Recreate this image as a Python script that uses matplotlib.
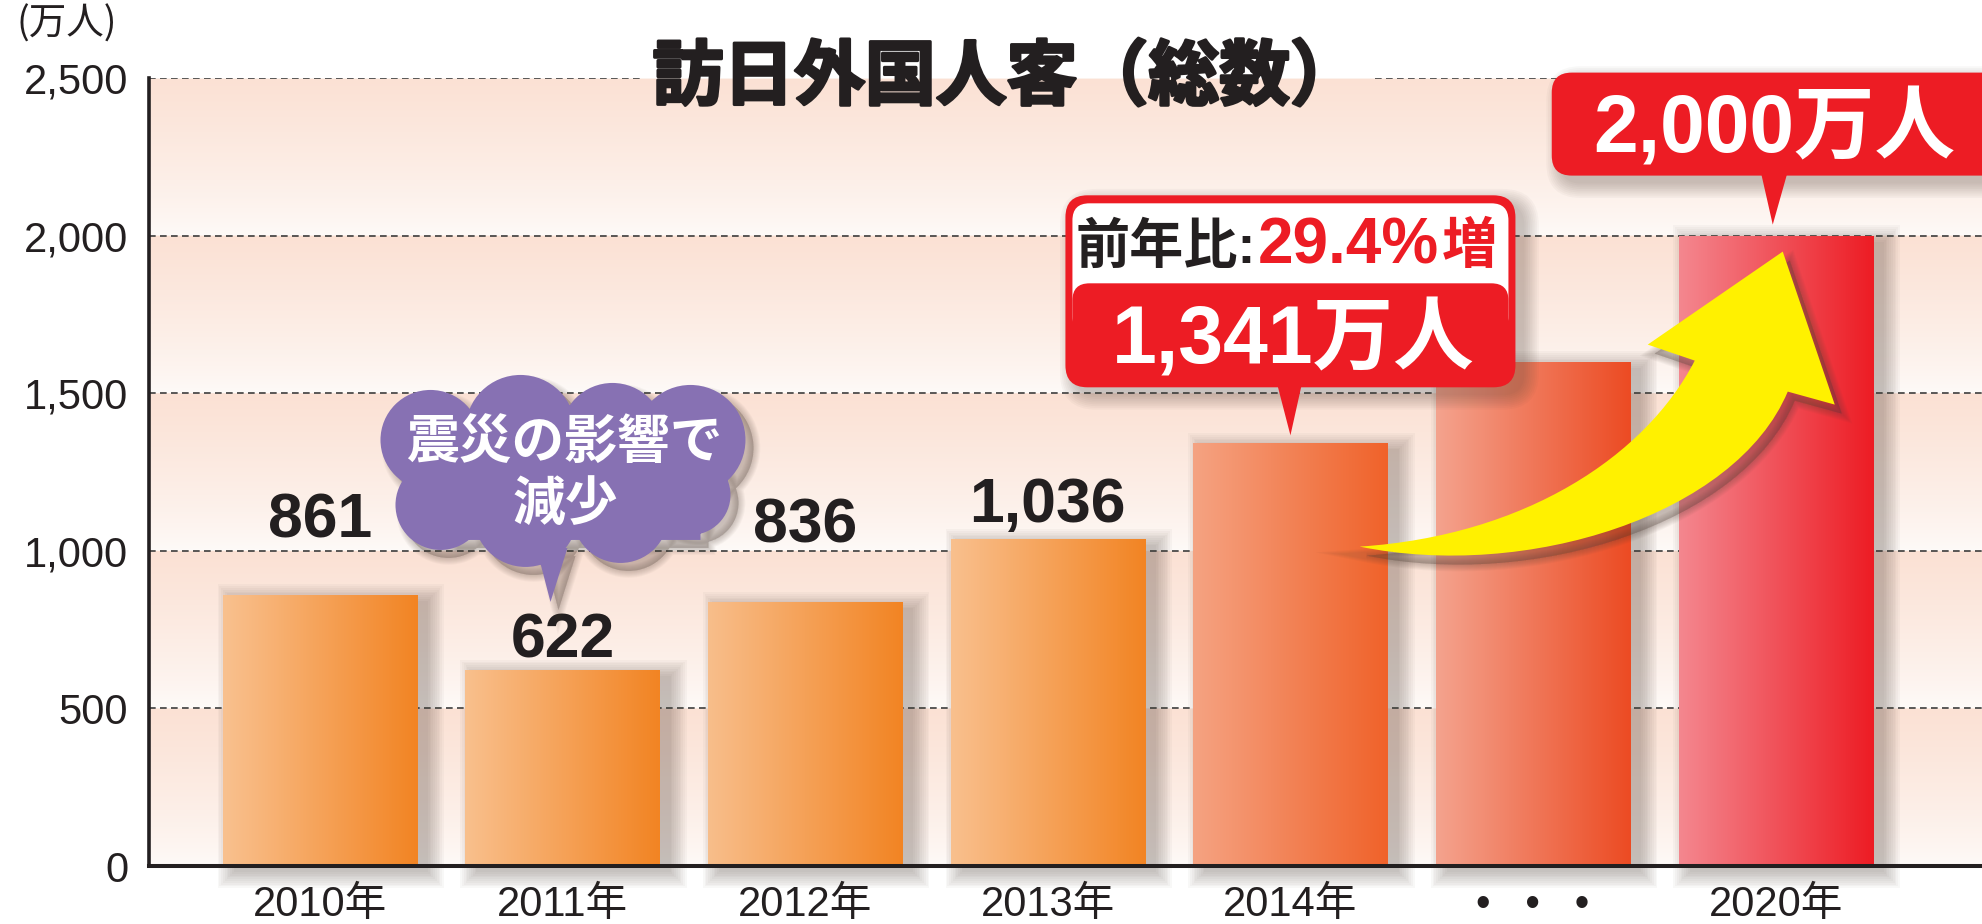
import numpy as np
import matplotlib
matplotlib.use('Agg')
import matplotlib.pyplot as plt
from matplotlib.patches import FancyBboxPatch, Polygon, PathPatch, Rectangle
from matplotlib.path import Path
from matplotlib.transforms import IdentityTransform, Affine2D
from matplotlib.colors import LinearSegmentedColormap, to_rgb
import matplotlib.patheffects as pe

# ---------------- data ----------------
categories = ['2010年', '2011年', '2012年', '2013年', '2014年', '•   •   •', '2020年']
values = [861, 622, 836, 1036, 1341, 1600, 2000]
value_labels = ['861', '622', '836', '1,036']
yticks = [0, 500, 1000, 1500, 2000, 2500]
ytick_labels = ['0', '500', '1,000', '1,500', '2,000', '2,500']
bar_left_colors = ['#f9c18f', '#f9c08d', '#f8be8b', '#f9c08e', '#f5a382', '#f4a38e', '#f4878f']
bar_right_colors = ['#f28423', '#f28423', '#f28423', '#f28423', '#f0622a', '#ec4b23', '#ed1c24']
title = '訪日外国人客（総数）'
unit_label = '(万人)'
cloud_lines = ['震災の影響で', '減少']
yoy_prefix = '前年比:'
yoy_value = '29.4%増'
callout_2014 = '1,341万人'
callout_2020 = '2,000万人'

# ---------------- style ----------------
W, H = 1982, 924
DPI = 100
RED = '#ed1c24'
PURPLE = '#8771b3'
YELLOW = '#fff100'
INK = '#231f20'
LATIN_CJK = ['Liberation Sans', 'Noto Sans CJK JP']
CJK = ['Noto Sans CJK JP', 'DejaVu Sans']
ID = IdentityTransform()

fig = plt.figure(figsize=(W / DPI, H / DPI), dpi=DPI)
fig.patch.set_facecolor('white')
renderer = fig.canvas.get_renderer()
left_px, bottom_px, top_px = 149, 866, 78
ax = fig.add_axes([left_px / W, (H - bottom_px) / H, 1 - left_px / W, (bottom_px - top_px) / H])
x = np.arange(len(categories))
XL = (-0.704, 6.85)
YL = (0, yticks[-1])
ax.set_xlim(*XL)
ax.set_ylim(*YL)
ax.set_facecolor('none')

# background bands (pink at top of each band fading to white)
band = yticks[1] - yticks[0]
yy = np.linspace(YL[0], YL[1], 1200)
frac = ((yy % band) / band) ** 0.75
ctop = np.array(to_rgb('#fbe1d4'))
cbot = np.array(to_rgb('#fefbf9'))
bg = cbot + (ctop - cbot) * frac[:, None]
ax.imshow(bg[:, None, :], extent=[XL[0], XL[1], YL[0], YL[1]], origin='lower',
          aspect='auto', zorder=0, interpolation='bilinear')

# gridlines
grid_kw = dict(color='#3d3d3d', lw=1.2, ls=(0, (4, 2.6)), zorder=1)
for v in yticks[1:-1]:
    ax.axhline(v, **grid_kw)

# ---------------- helpers ----------------
def rect_shadow(x0, y0, x1, y1, dx=11, dy=-6, n=10, step=1.8, alpha=0.037, z=2, color='#4f4038'):
    for i in range(n):
        e = i * step
        ax.add_patch(Rectangle((x0 + dx - e, y0 + dy - e), (x1 - x0) + 2 * e, (y1 - y0) + 2 * e,
                               transform=ID, facecolor=color, edgecolor='none', alpha=alpha,
                               zorder=z, clip_on=False))


def round_shadow(x0, y0, w, h, r, dx=9, dy=-8, n=9, step=1.8, alpha=0.035, z=5, color='#4f4038'):
    for i in range(n):
        e = i * step
        ax.add_patch(FancyBboxPatch((x0 + dx - e, y0 + dy - e), w + 2 * e, h + 2 * e,
                                    boxstyle=f'round,pad=0,rounding_size={r + e}', transform=ID,
                                    facecolor=color, edgecolor='none', alpha=alpha, zorder=z,
                                    clip_on=False))


def path_shadow(path, dx=8, dy=-8, n=8, step=1.4, alpha=0.04, z=5, color='#4f4038'):
    p = path.transformed(Affine2D().translate(dx, dy))
    for i in range(n):
        ax.add_patch(PathPatch(p, transform=ID, facecolor=color, edgecolor=color,
                               lw=i * step, alpha=alpha, zorder=z, clip_on=False))


def rbox(x0, y0, w, h, r, fc, z):
    ax.add_patch(FancyBboxPatch((x0, y0), w, h, boxstyle=f'round,pad=0,rounding_size={r}',
                                transform=ID, facecolor=fc, edgecolor='none', zorder=z,
                                clip_on=False))


# ---------------- bars ----------------
bars = ax.bar(x, values, width=0.8, color='none', edgecolor='none', zorder=3)
grad = np.linspace(0, 1, 256)[None, :]
for b, cl, cr in zip(bars, bar_left_colors, bar_right_colors):
    (bx0, by0) = ax.transData.transform((b.get_x(), 0))
    (bx1, by1) = ax.transData.transform((b.get_x() + b.get_width(), b.get_height()))
    rect_shadow(bx0, by0, bx1, by1)
    cmap = LinearSegmentedColormap.from_list('g', [cl, cr])
    im = ax.imshow(grad, cmap=cmap, extent=[b.get_x(), b.get_x() + b.get_width(), 0, b.get_height()],
                   aspect='auto', zorder=3, origin='lower', interpolation='bilinear')
    im.set_clip_path(b)

# value labels
label_offsets_px = [57, 12, 60, 17]
for i, lbl in enumerate(value_labels):
    ax.annotate(lbl, (x[i], values[i]), xytext=(0, label_offsets_px[i]), textcoords='offset pixels',
                ha='center', va='baseline', fontsize=45, fontweight='bold', family=LATIN_CJK,
                color=INK, zorder=4)

# ---------------- cloud callout (2011) ----------------
cx, cy = ax.transData.transform((x[1], values[1]))
circles = [(-132, 230, 50), (-42, 240, 55), (50, 235, 52), (128, 230, 55),
           (-122, 165, 45), (-37, 155, 52), (58, 155, 48), (128, 175, 40)]
parts = [Path.circle((cx + a, cy + b), r) for a, b, r in circles]
parts.append(Path.unit_rectangle().transformed(Affine2D().scale(250, 120).translate(cx - 112, cy + 130)))
parts.append(Path([(cx - 25, cy + 118), (cx - 12, cy + 68), (cx + 5, cy + 122), (cx - 25, cy + 118)],
                  [Path.MOVETO, Path.LINETO, Path.LINETO, Path.CLOSEPOLY]))
cloud = Path.make_compound_path(*parts)
path_shadow(cloud, dx=8, dy=-8, z=5)
ax.add_patch(PathPatch(cloud, transform=ID, facecolor=PURPLE, edgecolor='none', zorder=6, clip_on=False))
ax.text(cx + 1.5, cy + 227, cloud_lines[0], transform=ID, ha='center', va='center', fontsize=38,
        fontweight='bold', family=CJK, color='white', zorder=7)
ax.text(cx + 2.5, cy + 165, cloud_lines[1], transform=ID, ha='center', va='center', fontsize=38,
        fontweight='bold', family=CJK, color='white', zorder=7)

# ---------------- 2014 callout ----------------
ax4, ay4 = ax.transData.transform((x[4], values[4]))
round_shadow(ax4 - 225, ay4 + 56, 450, 192, 22, z=5)
ax.add_patch(Polygon([(ax4 - 14, ay4 + 62), (ax4 + 12, ay4 + 62), (ax4, ay4 + 8)], closed=True,
                     transform=ID, facecolor=RED, edgecolor='none', zorder=6, clip_on=False))
rbox(ax4 - 225, ay4 + 56, 450, 192, 22, RED, 6)
rbox(ax4 - 218, ay4 + 110, 436, 130, 17, 'white', 6.1)
rbox(ax4 - 218, ay4 + 63, 436, 97, 17, RED, 6.2)
split = ax4 - 34
ax.text(split, ay4 + 180, yoy_prefix, transform=ID, ha='right', va='baseline', fontsize=39,
        fontweight='bold', family=LATIN_CJK, color=INK, zorder=7)
num_txt = ax.text(split + 1, ay4 + 180, yoy_value[:-1], transform=ID, ha='left', va='baseline',
                  fontsize=46, fontweight='bold', family=LATIN_CJK, color=RED, zorder=7)
num_bb = num_txt.get_window_extent(renderer)
ax.text(num_bb.x1 + 3, ay4 + 180, yoy_value[-1], transform=ID, ha='left', va='baseline', fontsize=40,
        fontweight='bold', family=LATIN_CJK, color=RED, zorder=7)
ax.text(ax4 + 3, ay4 + 80, callout_2014, transform=ID, ha='center', va='baseline', fontsize=58,
        fontweight='bold', family=LATIN_CJK, color='white', zorder=7)

# ---------------- 2020 callout ----------------
ax6, ay6 = ax.transData.transform((x[6], values[6]))
round_shadow(ax6 - 224, ay6 + 60, 470, 103, 20, z=5)
ax.add_patch(Polygon([(ax6 - 15, ay6 + 64), (ax6 + 12, ay6 + 64), (ax6 - 3, ay6 + 11)], closed=True,
                     transform=ID, facecolor=RED, edgecolor='none', zorder=6, clip_on=False))
rbox(ax6 - 224, ay6 + 60, 470, 103, 20, RED, 6)
ax.text(ax6 - 1, ay6 + 83, callout_2020, transform=ID, ha='center', va='baseline', fontsize=58,
        fontweight='bold', family=LATIN_CJK, color='white', zorder=7)

# ---------------- yellow arrow ----------------
def P(dx, dy):
    return (ax6 + dx, ay6 + dy)

verts = [P(-416, -311), P(-250, -300), P(-130, -220), P(-81, -125),
         P(-128, -109), P(7, -16), P(59, -169), P(12, -156),
         P(-40, -280), P(-250, -345), P(-416, -311), P(-416, -311)]
codes = [Path.MOVETO, Path.CURVE4, Path.CURVE4, Path.CURVE4,
         Path.LINETO, Path.LINETO, Path.LINETO, Path.LINETO,
         Path.CURVE4, Path.CURVE4, Path.CURVE4, Path.CLOSEPOLY]
arrow = Path(verts, codes)
path_shadow(arrow, dx=7, dy=-9, z=7.5, alpha=0.045)
ax.add_patch(PathPatch(arrow, transform=ID, facecolor=YELLOW, edgecolor='none', zorder=8, clip_on=False))

# ---------------- axes styling ----------------
for s in ['top', 'right']:
    ax.spines[s].set_visible(False)
ax.spines['left'].set_linewidth(2.6)
ax.spines['bottom'].set_linewidth(2.9)
for s in ['left', 'bottom']:
    ax.spines[s].set_color(INK)
    ax.spines[s].set_zorder(10)

ax.set_yticks(yticks, labels=ytick_labels)
ax.set_xticks(x, labels=categories)
ax.tick_params(axis='y', length=0, pad=15, labelsize=30, labelcolor=INK)
ax.tick_params(axis='x', length=0, pad=14, labelsize=30, labelcolor=INK)
for t in ax.get_yticklabels() + ax.get_xticklabels():
    t.set_family(LATIN_CJK)

# unit label and title
fig.text(16 / W, 1 - 24 / H, unit_label, ha='left', va='center', fontsize=27, family=CJK, color=INK)
_, ty = ax.transData.transform((0, yticks[-1]))
ttl = fig.text(0.508, ty / H, title, ha='center', va='center', fontsize=51, fontweight='bold',
               family=CJK, color=INK, zorder=12,
               path_effects=[pe.withStroke(linewidth=2.2, foreground=INK)])

ax.set_xlim(*XL)
ax.set_ylim(*YL)

# top gridline broken around the title
fig.canvas.draw()
bb = ttl.get_window_extent()
inv = ax.transData.inverted()
gx0 = inv.transform((bb.x0 - 8, 0))[0]
gx1 = inv.transform((bb.x1 + 14, 0))[0]
ax.hlines(yticks[-1], XL[0], gx0, colors=grid_kw['color'], lw=grid_kw['lw'], linestyles=grid_kw['ls'], zorder=1)
ax.hlines(yticks[-1], gx1, XL[1], colors=grid_kw['color'], lw=grid_kw['lw'], linestyles=grid_kw['ls'], zorder=1)

fig.savefig('out.png', dpi=DPI, facecolor='white')
